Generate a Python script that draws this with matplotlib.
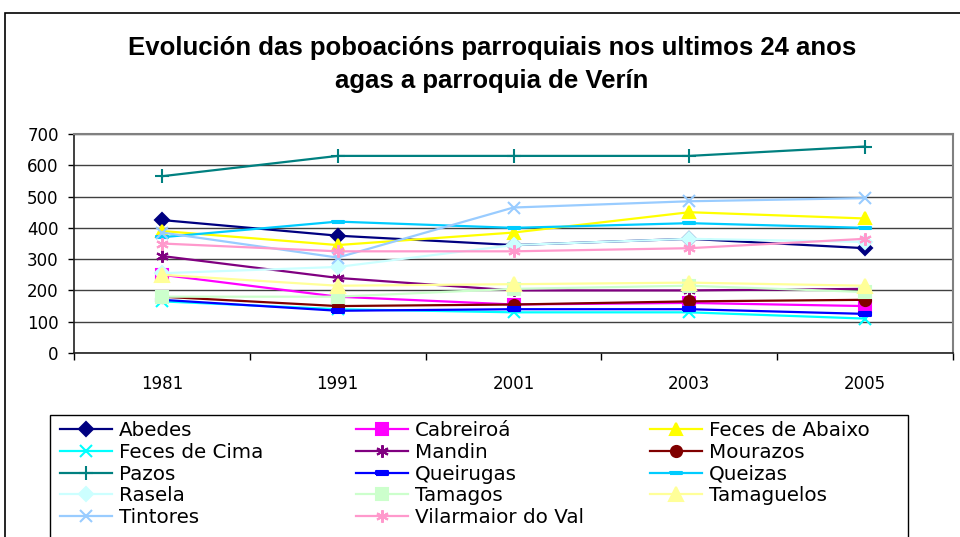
import matplotlib.pyplot as plt
from matplotlib.patches import Rectangle
from matplotlib.ticker import FixedLocator

plt.rcParams["font.family"] = ["DejaVu Sans"]

# Data
years = ["1981", "1991", "2001", "2003", "2005"]

abedes = [425, 375, 345, 365, 335]
cabreiroa = [250, 180, 155, 160, 150]
feces_abaixo = [390, 345, 385, 450, 430]
feces_cima = [165, 140, 130, 130, 110]
mandin = [310, 240, 200, 200, 205]
mourazos = [180, 150, 155, 165, 170]
pazos = [565, 630, 630, 630, 660]
queirugas = [170, 135, 140, 140, 125]
queizas = [370, 420, 400, 415, 400]
rasela = [255, 275, 345, 365, 355]
tamagos = [180, 180, 205, 215, 195]
tamaguelos = [250, 215, 220, 225, 215]
tintores = [385, 305, 465, 485, 495]
vilarmaior = [350, 325, 325, 335, 365]

# marker shapes (Excel style)
asterisk = (6, 2, 0)
short_bar = [(-1, -0.4), (1, -0.4), (1, 0.4), (-1, 0.4), (-1, -0.4)]
long_bar = [(-1.6, -0.4), (1.6, -0.4), (1.6, 0.4), (-1.6, 0.4), (-1.6, -0.4)]

series = [
    ("Abedes", abedes, "#000080", "D", 7),
    ("Cabreiroá", cabreiroa, "#FF00FF", "s", 8),
    ("Feces de Abaixo", feces_abaixo, "#FFFF00", "^", 9),
    ("Feces de Cima", feces_cima, "#00FFFF", "x", 8),
    ("Mandin", mandin, "#800080", asterisk, 9),
    ("Mourazos", mourazos, "#800000", "o", 8),
    ("Pazos", pazos, "#008080", "+", 10),
    ("Queirugas", queirugas, "#0000FF", short_bar, 8),
    ("Queizas", queizas, "#00CCFF", long_bar, 8),
    ("Rasela", rasela, "#CCFFFF", "D", 7),
    ("Tamagos", tamagos, "#CCFFCC", "s", 9),
    ("Tamaguelos", tamaguelos, "#FFFF99", "^", 10),
    ("Tintores", tintores, "#99CCFF", "x", 8),
    ("Vilarmaior do Val", vilarmaior, "#FF99CC", asterisk, 9),
]

fig = plt.figure(figsize=(9.6, 5.37), dpi=100)
ax = fig.add_axes([74 / 960, 1 - 353 / 537, 879 / 960, 219 / 537])

x = list(range(len(years)))
handles = []
for name, vals, color, marker, ms in series:
    h, = ax.plot(x, vals, color=color, marker=marker, markersize=ms,
                 markerfacecolor=color, markeredgecolor=color,
                 markeredgewidth=1.5, linewidth=1.6, label=name)
    handles.append(h)

ax.set_xlim(-0.5, len(years) - 0.5)
ax.set_ylim(0, 700)
ax.set_yticks(range(0, 701, 100))
ax.set_xticks(x)
ax.set_xticklabels(years)
ax.xaxis.set_minor_locator(FixedLocator([i - 0.5 for i in range(len(years) + 1)]))
ax.tick_params(axis="x", which="major", length=0, pad=16, labelsize=12)
ax.tick_params(axis="x", which="minor", length=5, width=1, direction="out")
ax.tick_params(axis="y", length=4, width=1, pad=7, labelsize=12)
ax.grid(axis="y", color="#404040", linewidth=1)
ax.set_axisbelow(True)
for side in ["top", "right"]:
    ax.spines[side].set_color("#808080")
    ax.spines[side].set_linewidth(1.5)
for side in ["left", "bottom"]:
    ax.spines[side].set_color("#202020")
    ax.spines[side].set_linewidth(1.2)

title_font = dict(ha="center", va="baseline", fontsize=18.5, fontweight="bold",
                  family="Liberation Sans")
fig.text(492 / 960, 1 - 55 / 537, "Evolución das poboacións parroquiais nos ultimos 24 anos",
         **title_font)
fig.text(492 / 960, 1 - 88 / 537, "agas a parroquia de Verín", **title_font)

# outer chart border
fig.patches.append(Rectangle((5 / 960, -0.1), 1.2, 1.1 - 13 / 537, transform=fig.transFigure,
                             fill=False, edgecolor="black", linewidth=1.2))

# legend, three columns filled row by row like Excel
columns = [[0, 3, 6, 9, 12], [1, 4, 7, 10, 13], [2, 5, 8, 11]]
col_x = [60, 356, 650]
for idx, x0 in zip(columns, col_x):
    leg = fig.legend([handles[i] for i in idx], [series[i][0] for i in idx],
                     loc="upper left", bbox_to_anchor=(x0 / 960, 1 - 421 / 537),
                     frameon=False, fontsize=14.3, handlelength=2.6,
                     handletextpad=0.35, labelspacing=0.14,
                     borderpad=0, borderaxespad=0)
fig.patches.append(Rectangle((50 / 960, -0.1), 858 / 960, 0.1 + 1 - 415 / 537,
                             transform=fig.transFigure, fill=False,
                             edgecolor="black", linewidth=1))

fig.savefig("out.png", dpi=100)
